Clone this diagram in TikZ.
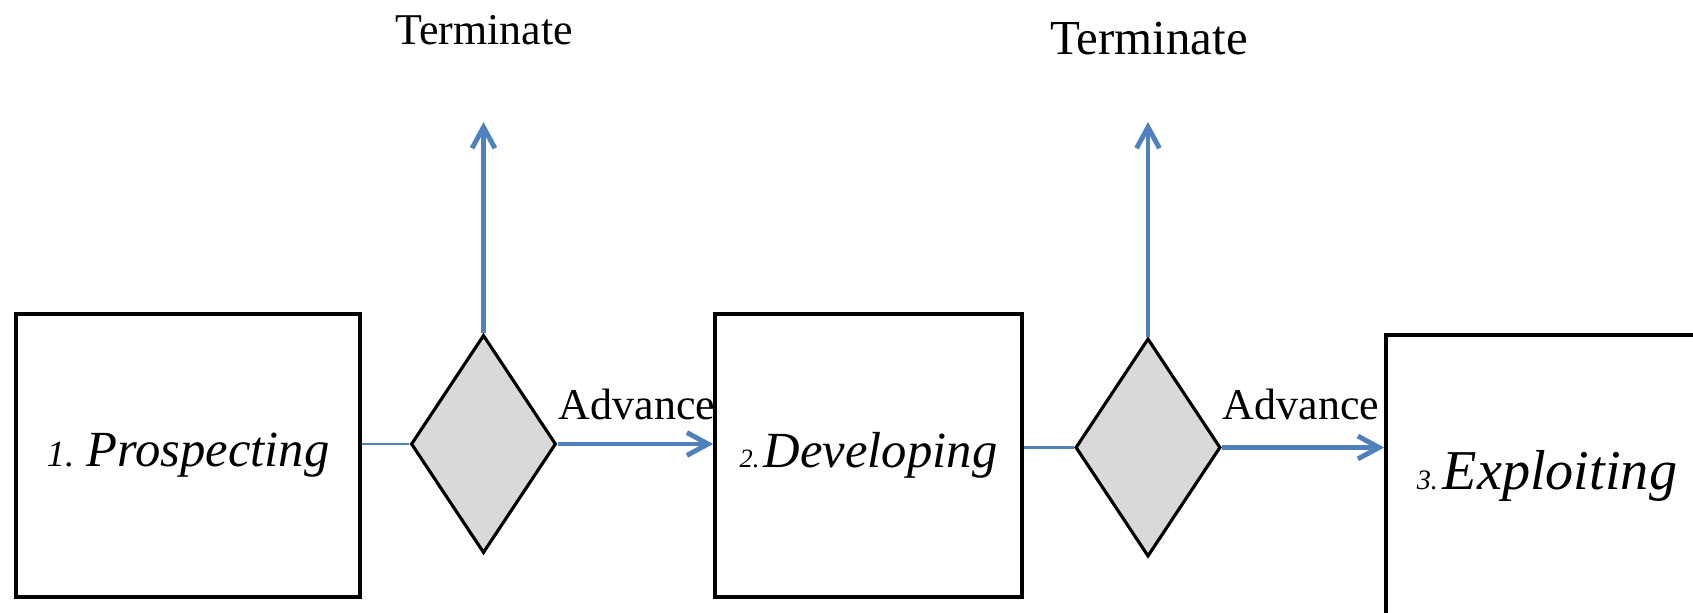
\documentclass[tikz,border=0pt]{standalone}
\usepackage{fontspec}
\setmainfont{Liberation Serif}
\usetikzlibrary{shapes.geometric,arrows.meta}

\definecolor{flowblue}{HTML}{4F81BD}
\definecolor{gategray}{HTML}{D9D9D9}

\begin{document}
\begin{tikzpicture}[x=0.01cm,y=-0.01cm]
        \useasboundingbox (0,0) rectangle (1693,613);
        \clip (0,0) rectangle (1693,613);
        % stages
        \begin{scope}[every node/.style={draw,line width=1pt,inner sep=0,minimum height=2.83cm,font=\itshape}]
                \node[minimum width=3.44cm] (P) at (188,455.5) {\fontsize{10.5}{12}\selectfont 1. \fontsize{14.4}{17}\selectfont Prospecting};
                \node[minimum width=3.07cm] (D) at (868.5,455.5) {\fontsize{7.5}{9}\selectfont 2.\,\fontsize{14.4}{17}\selectfont Developing};
                \node[minimum width=3.22cm,minimum height=2.81cm] (X) at (1547,475.5) {\fontsize{8}{9}\selectfont 3.\,\fontsize{16}{19}\selectfont Exploiting};
        \end{scope}
        % decision gates
        \begin{scope}[every node/.style={diamond,draw,fill=gategray,line width=0.9pt,inner sep=0,minimum width=1.45cm,minimum height=2.18cm}]
                \node (G1) at (483.5,444) {};
                \node (G2) at (1148,447.5) {};
        \end{scope}
        % labels
        \node[font=\fontsize{12.5}{15}\selectfont] (T1) at (484,30) {Terminate};
        \node[font=\fontsize{13.9}{17}\selectfont] (T2) at (1149,39) {Terminate};
        \node[font=\fontsize{12.5}{15}\selectfont] (A1) at (637,404) {Advance};
        \node[font=\fontsize{12.5}{15}\selectfont] (A2) at (1301,404) {Advance};
        \coordinate (E1) at (483.5,122);
        \coordinate (E2) at (1148,122);
        % connectors
        \begin{scope}[every path/.style={flowblue,line width=0.7pt}]
                \draw (P.east |- G1) -- (G1.west);
                \draw (D.east |- G2) -- (G2.west);
        \end{scope}
        \begin{scope}[every path/.style={flowblue,line width=1.4pt,-{Straight Barb[length=6pt,width=6.5pt]}}]
                \draw (G1.east) -- (G1.east -| D.west);
                \draw (G2.east) -- (G2.east -| X.west);
                \draw (G1.north) -- (E1);
                \draw (G2.north) -- (E2);
        \end{scope}
\end{tikzpicture}
\end{document}
